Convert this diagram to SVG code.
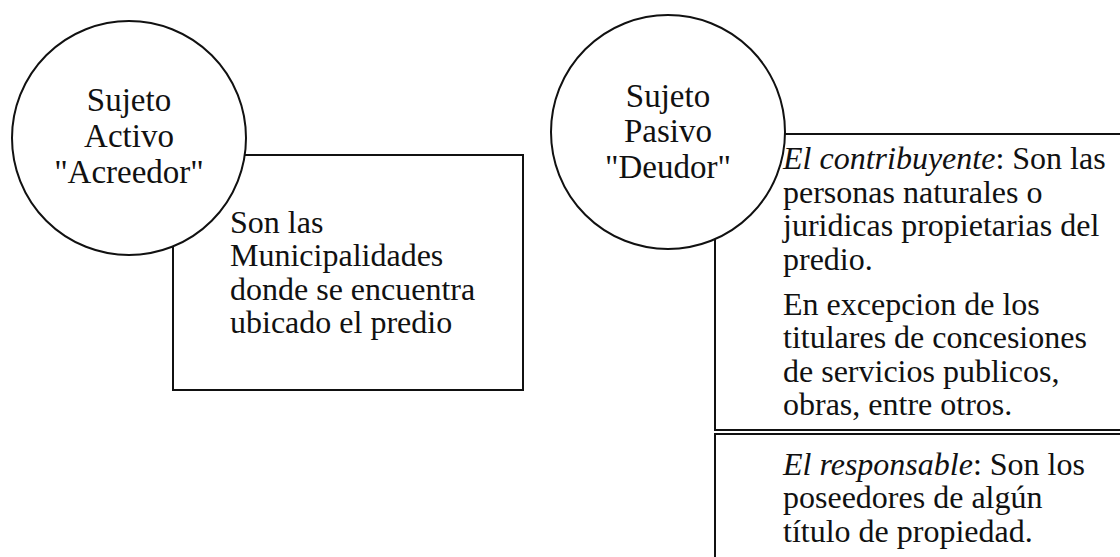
<svg xmlns="http://www.w3.org/2000/svg" width="1120" height="557" viewBox="0 0 1120 557">
<style>
  .shape { fill: none; stroke: #111; stroke-width: 2; }
  .circ { fill: #fff; stroke: #111; stroke-width: 2; }
  .ct { font-family: "Liberation Serif", "Times New Roman", serif; font-size: 33px; fill: #111; text-anchor: middle; }
  .bt { font-family: "Liberation Serif", "Times New Roman", serif; font-size: 32px; fill: #111; }
  .it { font-style: italic; }
</style>
<defs>
  <clipPath id="outsideCircles">
    <path clip-rule="evenodd" d="M0 0H1120V557H0Z M12 138a117 117 0 1 0 234 0a117 117 0 1 0 -234 0Z M551 132a117 117 0 1 0 234 0a117 117 0 1 0 -234 0Z"/>
  </clipPath>
</defs>
<rect width="1120" height="557" fill="#fff"/>

<g id="connectors"></g>

<g id="sujeto-activo">
  <circle class="circ" cx="129" cy="138" r="117"/>
  <text class="ct" x="129" y="111">Sujeto</text>
  <text class="ct" x="129" y="147">Activo</text>
  <text class="ct" x="129" y="183">"Acreedor"</text>
</g>

<g id="sujeto-pasivo">
  <circle class="circ" cx="668" cy="132" r="117"/>
  <text class="ct" x="668" y="107">Sujeto</text>
  <text class="ct" x="668" y="142">Pasivo</text>
  <text class="ct" x="668" y="178">"Deudor"</text>
</g>

<g id="box-municipalidades">
  <rect class="shape" x="173" y="155" width="350" height="235" clip-path="url(#outsideCircles)"/>
  <text class="bt" x="230" y="233">Son las</text>
  <text class="bt" x="230" y="266">Municipalidades</text>
  <text class="bt" x="230" y="300">donde se encuentra</text>
  <text class="bt" x="230" y="333">ubicado el predio</text>
</g>

<g id="box-contribuyente">
  <rect class="shape" x="715" y="134" width="440" height="296" clip-path="url(#outsideCircles)"/>
  <text class="bt" x="783" y="169"><tspan class="it">El contribuyente</tspan>: Son las</text>
  <text class="bt" x="783" y="203">personas naturales o</text>
  <text class="bt" x="783" y="236">juridicas propietarias del</text>
  <text class="bt" x="783" y="270">predio.</text>
  <text class="bt" x="783" y="315">En excepcion de los</text>
  <text class="bt" x="783" y="348">titulares de concesiones</text>
  <text class="bt" x="783" y="382">de servicios publicos,</text>
  <text class="bt" x="783" y="415">obras, entre otros.</text>
</g>

<g id="box-responsable">
  <rect class="shape" x="715" y="434" width="440" height="160"/>
  <text class="bt" x="783" y="475"><tspan class="it">El responsable</tspan>: Son los</text>
  <text class="bt" x="783" y="508">poseedores de algún</text>
  <text class="bt" x="783" y="542">título de propiedad.</text>
</g>
</svg>
